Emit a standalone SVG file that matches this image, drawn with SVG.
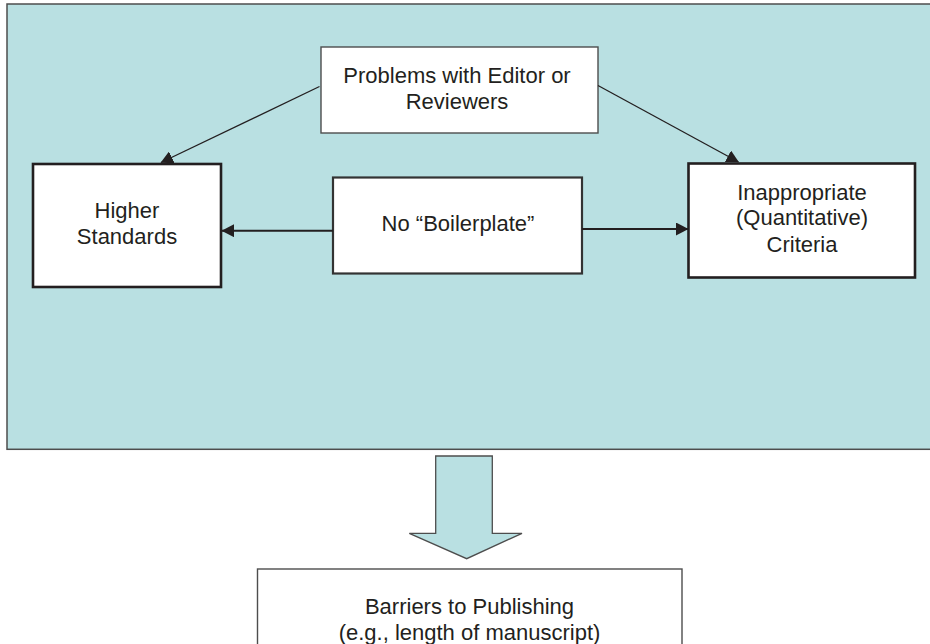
<svg xmlns="http://www.w3.org/2000/svg" width="930" height="644" viewBox="0 0 930 644">
<style>
text{font-family:"Liberation Sans",Arial,sans-serif;font-size:22px;fill:#231f20;text-anchor:middle}
.thin{fill:#fff;stroke:#4d4d4d;stroke-width:1.4}
.thick{fill:#fff;stroke:#231f20;stroke-width:2.6}
.mid{fill:#fff;stroke:#333;stroke-width:2.2}
.diag{stroke:#231f20;stroke-width:1.3;fill:none}
.horz{stroke:#231f20;stroke-width:2;fill:none}
</style>
<defs>
<marker id="ah" markerUnits="userSpaceOnUse" markerWidth="13" markerHeight="13" refX="12" refY="6.5" orient="auto" viewBox="0 0 13 13">
<path d="M0,0 L12.5,6.5 L0,13 z" fill="#231f20"/>
</marker>
</defs>
<rect id="panel" x="7" y="4" width="935" height="445.3" fill="#b9e0e2" stroke="#4d4d4d" stroke-width="1.5"/>
<g id="problems">
<rect class="thin" x="321" y="47" width="277" height="86"/>
<text x="457" y="83">Problems with Editor or</text>
<text x="457" y="109">Reviewers</text>
</g>
<g id="higher">
<rect class="thick" x="33" y="164" width="188" height="123"/>
<text x="127" y="218">Higher</text>
<text x="127" y="244">Standards</text>
</g>
<g id="boilerplate">
<rect class="mid" x="333" y="177.5" width="249" height="96"/>
<text x="458" y="231">No “Boilerplate”</text>
</g>
<g id="inappropriate">
<rect class="thick" x="688.5" y="163.5" width="226.5" height="114"/>
<text x="802" y="199.5">Inappropriate</text>
<text x="802" y="225">(Quantitative)</text>
<text x="802" y="252">Criteria</text>
</g>
<g id="connectors">
<line class="diag" x1="319.5" y1="86.5" x2="161" y2="162.5" marker-end="url(#ah)"/>
<line class="diag" x1="598" y1="85.5" x2="738.5" y2="162" marker-end="url(#ah)"/>
<line class="horz" x1="333" y1="230.7" x2="222" y2="230.7" marker-end="url(#ah)"/>
<line class="horz" x1="582" y1="229" x2="688" y2="229" marker-end="url(#ah)"/>
<polygon id="blockarrow" points="435.7,456 492.3,456 492.3,533.3 522,533.3 466.7,558.7 409.3,533.3 435.7,533.3" fill="#b9e0e2" stroke="#4d4d4d" stroke-width="1.3"/>
</g>
<g id="barriers">
<rect class="thin" x="257.5" y="569" width="424.5" height="100"/>
<text x="469.5" y="614">Barriers to Publishing</text>
<text x="469.5" y="639.5">(e.g., length of manuscript)</text>
</g>
</svg>
